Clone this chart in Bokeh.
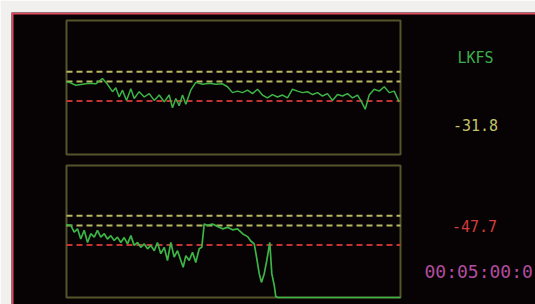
import numpy as np
from bokeh.plotting import figure
from bokeh.models import Range1d, Label, Span
from bokeh.embed import file_html
from bokeh.resources import INLINE

# ---------------- data ----------------
# time in seconds over a 5-minute window, loudness in LKFS
t_top = [0.0, 2.4, 8.4, 14.4, 20.4, 26.3, 32.3, 36.8, 41.3, 44.3, 47.3, 50.3, 53.9,
         57.8, 60.8, 65.3, 69.8, 74.3, 78.8, 83.3, 87.8, 92.2, 95.2, 98.2, 101.2,
         104.2, 107.2, 111.6, 116.1, 122.2, 128.2, 134.1, 140.1, 144.6, 149.1,
         153.6, 158.1, 162.6, 167.1, 171.6, 176.0, 180.5, 185.0, 189.5, 194.0,
         198.5, 203.0, 207.5, 212.0, 216.5, 221.0, 225.5, 229.9, 234.4, 238.9,
         243.4, 247.9, 252.4, 256.9, 261.4, 264.3, 268.3, 271.9, 276.4, 280.9,
         285.4, 289.9, 294.3, 298.8]
lkfs_top = [-20.1, -20.2, -20.8, -20.6, -20.4, -20.5, -19.4, -20.6, -22.1, -21.3,
            -23.2, -21.8, -23.9, -21.5, -23.5, -22.1, -23.2, -22.5, -23.9, -22.8,
            -24.2, -22.8, -25.4, -23.5, -25.0, -22.8, -24.7, -21.8, -20.2, -20.6,
            -20.4, -20.6, -20.5, -21.1, -22.3, -22.0, -22.3, -21.8, -22.5, -21.6,
            -22.8, -23.4, -22.7, -23.2, -22.8, -23.4, -21.6, -22.0, -22.3, -22.1,
            -22.7, -22.3, -23.0, -22.5, -23.9, -22.7, -23.0, -22.5, -23.4, -22.8,
            -23.9, -25.7, -22.8, -21.6, -22.0, -21.1, -22.3, -22.0, -24.2]

t_bot = [0.0, 3.9, 6.9, 9.9, 12.8, 15.9, 18.9, 21.8, 24.9, 27.8, 30.8, 33.9, 36.8,
         39.8, 42.8, 45.8, 48.8, 51.8, 54.8, 57.8, 60.8, 63.8, 66.7, 69.8, 72.8,
         75.7, 78.8, 81.7, 84.7, 87.8, 90.7, 93.7, 96.7, 99.7, 102.7, 104.8, 107.2,
         110.2, 113.2, 116.1, 119.2, 121.5, 123.7, 126.6, 131.1, 135.6, 140.1,
         144.6, 149.1, 153.6, 158.1, 162.6, 165.5, 168.6, 170.7, 173.1, 175.1,
         177.6, 179.9, 182.6, 184.4, 186.6, 188.0, 190.0, 300.0]
lkfs_bot = [-19.9, -20.0, -21.4, -20.7, -22.8, -21.0, -23.5, -21.7, -22.4, -21.0,
            -22.4, -21.7, -22.8, -22.1, -23.1, -22.4, -23.5, -22.5, -23.8, -22.1,
            -24.1, -23.5, -24.5, -23.8, -24.8, -24.1, -25.2, -23.5, -25.8, -24.5,
            -27.2, -23.5, -26.5, -25.2, -27.2, -28.6, -26.2, -27.2, -25.5, -27.6,
            -24.8, -24.5, -19.7, -20.0, -19.7, -20.2, -20.7, -20.4, -20.9, -20.7,
            -21.7, -22.3, -23.2, -23.8, -26.5, -29.9, -31.7, -29.9, -27.2, -23.5,
            -29.9, -32.3, -34.6, -70.0, -70.0]

upper_limits = [-18.0, -20.0]   # yellow dashed
lower_limit = -24.0             # red dashed
unit_label = "LKFS"
readout_top = "-31.8"
readout_bot = "-47.7"
timecode = "00:05:00:0"

T_START, T_END = 0.0, 300.0
TOP_MIN, TOP_MAX = -35.0, -7.5
BOT_MIN, BOT_MAX = -34.8, -7.7

# ---------------- layout (page pixels) ----------------
W, H = 535, 304
FRAME_L, FRAME_R, FRAME_T, FRAME_B = 11, 535, 12, 304
PAN_L, PAN_R = 66, 400
TOP_T, TOP_B = 20, 154
BOT_T, BOT_B = 165, 297

kx = (PAN_R - PAN_L) / (T_END - T_START)
ky1 = (TOP_B - TOP_T) / (TOP_MAX - TOP_MIN)
ky2 = (BOT_B - BOT_T) / (BOT_MAX - BOT_MIN)

x_range = Range1d(T_START - (PAN_L - FRAME_L) / kx, T_END + (FRAME_R - PAN_R) / kx)
y_range = Range1d(TOP_MIN - (FRAME_B - TOP_B) / ky1, TOP_MAX + (TOP_T - FRAME_T) / ky1)
bot_range = Range1d(BOT_MIN - (FRAME_B - BOT_B) / ky2, BOT_MAX + (BOT_T - FRAME_T) / ky2)


def xd(px):
    return T_START + (px - PAN_L) / kx


def yd(py):
    return TOP_MAX - (py - TOP_T) / ky1


p = figure(width=W, height=H, x_range=x_range, y_range=y_range,
           output_backend="svg", toolbar_location=None, title=None,
           x_axis_location=None, y_axis_location=None,
           min_border_left=FRAME_L, min_border_top=FRAME_T,
           min_border_right=0, min_border_bottom=0)
p.extra_y_ranges = {"bot": bot_range}
p.xgrid.visible = False
p.ygrid.visible = False
p.background_fill_color = "#070304"
p.border_fill_color = "#f1f0ef"
p.outline_line_color = None

BOX = "#55552c"
YEL = "#b8b862"
RED = "#c23434"
GRN = "#3cb446"

for rng, lo, hi in ((None, TOP_MIN, TOP_MAX), ("bot", BOT_MIN, BOT_MAX)):
    kw = {} if rng is None else {"y_range_name": rng}
    p.quad(left=[T_START], right=[T_END], bottom=[lo], top=[hi],
           fill_color=None, line_color=BOX, line_width=2, **kw)
    p.segment(x0=[T_START] * 2, x1=[T_END] * 2, y0=upper_limits, y1=upper_limits,
              line_color=YEL, line_width=2, line_dash="6 4", **kw)
    p.segment(x0=[T_START], x1=[T_END], y0=[lower_limit], y1=[lower_limit],
              line_color=RED, line_width=2, line_dash="6 4", **kw)

p.line(t_top, np.clip(lkfs_top, TOP_MIN, TOP_MAX), line_color=GRN, line_width=1.5)
p.line(t_bot, np.clip(lkfs_bot, BOT_MIN, BOT_MAX), line_color=GRN, line_width=1.7,
       y_range_name="bot")

# red border of the screen (just inside the frame edges)
p.add_layout(Span(location=x_range.start + 1.0 / kx, dimension="height",
                  line_color="#e24c62", line_width=2))
p.add_layout(Span(location=y_range.end - 1.0 / ky1, dimension="width",
                  line_color="#e24c62", line_width=2))

for txt, cx, cy, col, size in ((unit_label, 475, 57, "#3cae4e", "15px"),
                               (readout_top, 475, 124, "#c4c46a", "15px"),
                               (readout_bot, 474, 225, "#d63c3c", "15px")):
    p.add_layout(Label(x=xd(cx), y=yd(cy), text=txt, text_align="center",
                       text_baseline="middle", text_color=col, text_font="DejaVu Sans Mono",
                       text_font_size=size))
p.add_layout(Label(x=xd(424), y=yd(271), text=timecode, text_align="left",
                   text_baseline="middle", text_color="#b24c9e", text_font="DejaVu Sans Mono",
                   text_font_size="18px"))

open("out.html", "w").write(file_html(p, INLINE))
